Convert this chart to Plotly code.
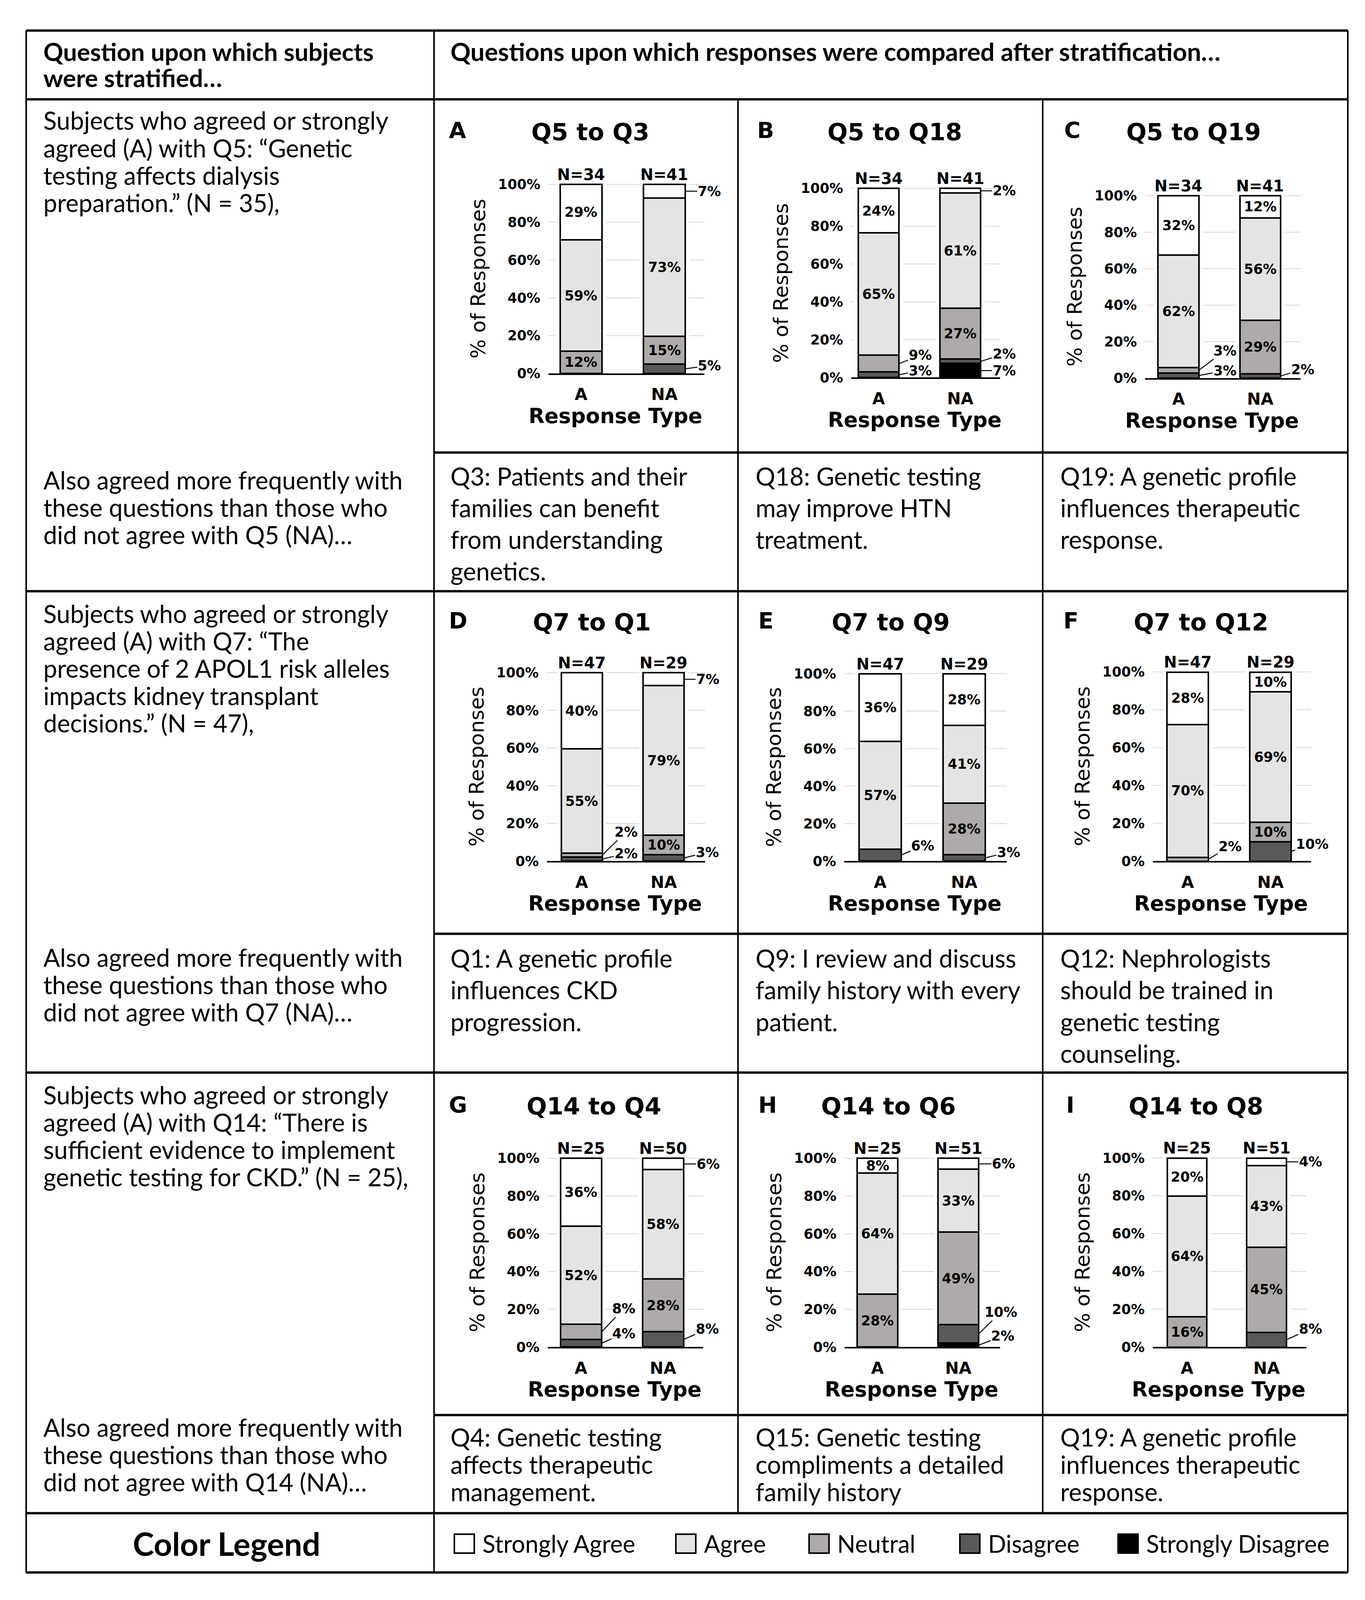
import plotly.graph_objects as go

# The reference is 3494 x 4762; the browser viewport that photographs the page is
# 3494 x 4096, so the whole table is laid out in reference pixels and compressed
# vertically to fit the visible page.
W = 3494
REF_H = 4762
VIEW_H = 4096
S = VIEW_H / REF_H

# ---------------- data ----------------
categories = ["A", "NA"]
levels = ["Strongly Agree", "Agree", "Neutral", "Disagree", "Strongly Disagree"]
level_keys = ["SA", "AG", "NE", "DI", "SD"]
level_colors = ["#ffffff", "#e4e4e4", "#aeaaaa", "#595959", "#000000"]

panel_letters = ["A", "B", "C", "D", "E", "F", "G", "H", "I"]
panel_titles = ["Q5 to Q3", "Q5 to Q18", "Q5 to Q19",
                "Q7 to Q1", "Q7 to Q9", "Q7 to Q12",
                "Q14 to Q4", "Q14 to Q6", "Q14 to Q8"]
n_group_A = [34, 34, 34, 47, 47, 47, 25, 25, 25]
n_group_NA = [41, 41, 41, 29, 29, 29, 50, 51, 51]

# % of responses, subjects who agreed (A)
strongly_agree_A = [29.4, 23.5, 32.4, 40.4, 36.2, 27.7, 36, 8, 20]
agree_A = [58.8, 64.7, 61.8, 55.3, 57.4, 70.2, 52, 64, 64]
neutral_A = [11.8, 8.8, 2.9, 2.1, 0, 2.1, 8, 28, 16]
disagree_A = [0, 2.9, 2.9, 2.1, 6.4, 0, 4, 0, 0]
strongly_disagree_A = [0, 0, 0, 0, 0, 0, 0, 0, 0]

# % of responses, subjects who did not agree (NA)
strongly_agree_NA = [7.3, 2.4, 12.2, 6.9, 27.6, 10.3, 6, 5.9, 3.9]
agree_NA = [73.2, 61.0, 56.1, 79.3, 41.4, 69.0, 58, 33.3, 43.1]
neutral_NA = [14.6, 26.8, 29.3, 10.3, 27.6, 10.3, 28, 49.0, 45.1]
disagree_NA = [4.9, 2.4, 2.4, 3.4, 3.4, 10.3, 8, 9.8, 7.8]
strongly_disagree_NA = [0, 7.3, 0, 0, 0, 0, 0, 2.0, 0]

y_tick_values = [0, 20, 40, 60, 80, 100]
y_tick_labels = ["0%", "20%", "40%", "60%", "80%", "100%"]

header_left = ["Question upon which subjects", "were stratified…"]
header_right = "Questions upon which responses were compared after stratification…"

strat_text = [
    ["Subjects who agreed or strongly", "agreed (A) with Q5: \u201cGenetic",
     "testing affects dialysis", "preparation.\u201d (N = 35),"],
    ["Subjects who agreed or strongly", "agreed (A) with Q7: \u201cThe",
     "presence of 2 APOL1 risk alleles", "impacts kidney transplant",
     "decisions.\u201d (N = 47),"],
    ["Subjects who agreed or strongly", "agreed (A) with Q14: \u201cThere is",
     "sufficient evidence to implement", "genetic testing for CKD.\u201d (N = 25),"],
]
also_text = [
    ["Also agreed more frequently with", "these questions than those who",
     "did not agree with Q5 (NA)…"],
    ["Also agreed more frequently with", "these questions than those who",
     "did not agree with Q7 (NA)…"],
    ["Also agreed more frequently with", "these questions than those who",
     "did not agree with Q14 (NA)…"],
]
question_text = [
    ["Q3: Patients and their", "families can benefit", "from understanding", "genetics."],
    ["Q18: Genetic testing", "may improve HTN", "treatment."],
    ["Q19: A genetic profile", "influences therapeutic", "response."],
    ["Q1: A genetic profile", "influences CKD", "progression."],
    ["Q9: I review and discuss", "family history with every", "patient."],
    ["Q12: Nephrologists", "should be trained in", "genetic testing", "counseling."],
    ["Q4: Genetic testing", "affects therapeutic", "management."],
    ["Q15: Genetic testing", "compliments a detailed", "family history"],
    ["Q19: A genetic profile", "influences therapeutic", "response."],
]

# ---------------- layout geometry (reference pixels) ----------------
def fx(px):
    return px / W

def fy(py):
    return 1 - py / REF_H

# plot area per panel: x0, x1, y of 100%, y of 0%
plot_box = [
    (1404, 1803, 541, 1108), (2179, 2560, 553, 1120), (2931, 3329, 575, 1122),
    (1400, 1805, 2005, 2570), (2161, 2577, 2008, 2570), (2951, 3356, 2003, 2570),
    (1402, 1800, 3461, 4027), (2162, 2560, 3461, 4027), (2951, 3344, 3460, 4027),
]
x_ranges = [(-0.39, 1.48), (-0.335, 1.488), (-0.41, 1.493),
            (-0.424, 1.505), (-0.428, 1.507), (-0.42, 1.49),
            (-0.405, 1.49), (-0.406, 1.517), (-0.43, 1.5)]
letter_x = [1147, 1936, 2722, 1147, 1939, 2720, 1147, 1939, 2727]
title_x = [1511, 2290, 3055, 1515, 2280, 3074, 1520, 2274, 3061]
title_y = [384, 1853, 3305]
BAR_W = 0.5
GRID_GAP = 0.05
Y_TOP = 102

# outside labels: (panel, bar, level) -> (ax, ay) offset of label from bar edge (ref px)
outside = {
    (0, 1, "SA"): (62, 0), (0, 1, "DI"): (62, -10),
    (1, 0, "NE"): (54, -25), (1, 0, "DI"): (54, -12),
    (1, 1, "SA"): (60, 0), (1, 1, "DI"): (60, -22), (1, 1, "SD"): (60, 0),
    (2, 0, "NE"): (66, -58), (2, 0, "DI"): (66, -14), (2, 1, "DI"): (56, -19),
    (3, 0, "NE"): (61, -69), (3, 0, "DI"): (61, -17),
    (3, 1, "SA"): (60, 0), (3, 1, "DI"): (59, -17),
    (4, 0, "DI"): (55, -28), (4, 1, "DI"): (60, -17),
    (5, 0, "NE"): (55, -37), (5, 1, "DI"): (54, -21),
    (6, 0, "NE"): (57, -69), (6, 0, "DI"): (57, -29),
    (6, 1, "SA"): (63, 0), (6, 1, "DI"): (61, -31),
    (7, 1, "SA"): (64, 0), (7, 1, "DI"): (57, -65), (7, 1, "SD"): (62, -27),
    (8, 1, "SA"): (61, 0), (8, 1, "DI"): (61, -32),
}

CH_FONT = "DejaVu Sans"
TX_FONT = "Lato"

series_A = [strongly_agree_A, agree_A, neutral_A, disagree_A, strongly_disagree_A]
series_NA = [strongly_agree_NA, agree_NA, neutral_NA, disagree_NA, strongly_disagree_NA]

fig = go.Figure()
annotations = []
shapes = []
layout_axes = {}


def paper_text(x, y, text, size, family, bold=False, xanchor="center",
               yanchor="middle", angle=0):
    f = dict(family=family, size=size, color="black")
    if bold:
        f["weight"] = "bold"
    annotations.append(dict(
        x=fx(x), y=fy(y), xref="paper", yref="paper", text=text,
        showarrow=False, xanchor=xanchor, yanchor=yanchor, textangle=angle,
        font=f,
    ))


for i in range(9):
    sfx = "" if i == 0 else str(i + 1)
    x0, x1, y100, y0 = plot_box[i]
    ytop = y0 - (y0 - y100) * Y_TOP / 100.0
    lo, hi = x_ranges[i]
    layout_axes["xaxis" + sfx] = dict(
        domain=[fx(x0), fx(x1)], anchor="y" + sfx, type="category",
        categoryorder="array", categoryarray=categories,
        range=[lo, hi], showline=True, linecolor="black", linewidth=4,
        showgrid=False, zeroline=False, ticks="", fixedrange=True,
        tickfont=dict(family=CH_FONT, size=42, color="black", weight="bold"),
        ticklabelstandoff=14,
    )
    layout_axes["yaxis" + sfx] = dict(
        domain=[fy(y0), fy(ytop)], anchor="x" + sfx, range=[0, Y_TOP],
        tickvals=y_tick_values, ticktext=y_tick_labels, showline=False,
        showgrid=False, zeroline=False,
        ticks="", fixedrange=True, ticklabelstandoff=20,
        tickfont=dict(family=CH_FONT, size=35, color="black", weight="bold"),
    )
    # gridlines, interrupted around the bars
    edge = BAR_W / 2 + GRID_GAP
    spans = [(lo, 0 - edge), (0 + edge, 1 - edge), (1 + edge, hi)]
    for gv in y_tick_values[1:]:
        for a, b in spans:
            shapes.append(dict(type="line", xref="x" + sfx, yref="y" + sfx,
                               x0=a, x1=b, y0=gv, y1=gv, layer="below",
                               line=dict(color="#d6d6d6", width=2)))
    # stacked bars: bottom to top SD, DI, NE, AG, SA
    for k in [4, 3, 2, 1, 0]:
        vals = [series_A[k][i], series_NA[k][i]]
        fig.add_trace(go.Bar(
            x=categories, y=[v if v > 0 else None for v in vals],
            xaxis="x" + sfx, yaxis="y" + sfx, width=BAR_W, name=levels[k],
            marker=dict(color=level_colors[k], line=dict(color="black", width=4)),
            showlegend=False, hoverinfo="skip",
        ))
    # segment labels
    for j, ser in enumerate([series_A, series_NA]):
        cum = 0.0
        for k in [4, 3, 2, 1, 0]:
            v = ser[k][i]
            if v <= 0:
                continue
            mid = cum + v / 2.0
            cum += v
            txt = f"{v:.0f}%"
            key = (i, j, level_keys[k])
            lf = dict(family=CH_FONT, size=35, color="black", weight="bold")
            if key in outside:
                ax, ay = outside[key]
                annotations.append(dict(
                    x=j + BAR_W / 2, y=mid, xref="x" + sfx, yref="y" + sfx,
                    text=txt, showarrow=True, arrowhead=0, arrowwidth=2.5,
                    arrowcolor="black", ax=ax, ay=ay * S, standoff=0,
                    xanchor="center", yanchor="middle", font=lf,
                ))
            else:
                annotations.append(dict(
                    x=j, y=mid, xref="x" + sfx, yref="y" + sfx, text=txt,
                    showarrow=False, xanchor="center", yanchor="middle", font=lf,
                ))
        # N labels
        n = [n_group_A, n_group_NA][j][i]
        annotations.append(dict(
            x=j, y=100, xref="x" + sfx, yref="y" + sfx, text=f"N={n}",
            showarrow=False, xanchor="center", yanchor="bottom", yshift=0,
            font=dict(family=CH_FONT, size=40, color="black", weight="bold"),
        ))
    # axis titles
    paper_text(x0 - 180, (y0 + y100) / 2, "% of Responses", 52, CH_FONT, angle=-90)
    paper_text((x0 + x1) / 2 - 28, y0 + 127, "Response Type", 53, CH_FONT, bold=True)
    # panel letter and title
    row = i // 3
    paper_text(letter_x[i], title_y[row] - 4, panel_letters[i], 57, CH_FONT,
               bold=True, xanchor="left")
    paper_text(title_x[i], title_y[row], panel_titles[i], 61, CH_FONT, bold=True)

# ---------------- table grid ----------------
L, C1, C2, C3, R = 67, 1111, 1889, 2669, 3450
T, HB = 80, 286
ROW_TOP = [286, 1761, 3204]
TXT_DIV = [1345, 2788, 4231]
LEG_T, B = 4525, 4703


def hline(y, xa, xb, w=6):
    shapes.append(dict(type="line", xref="paper", yref="paper",
                       x0=fx(xa), x1=fx(xb), y0=fy(y), y1=fy(y),
                       line=dict(color="black", width=w)))


def vline(x, ya, yb, w=4):
    shapes.append(dict(type="line", xref="paper", yref="paper",
                       x0=fx(x), x1=fx(x), y0=fy(ya), y1=fy(yb),
                       line=dict(color="black", width=w)))


for y in [T, HB, ROW_TOP[1], ROW_TOP[2], LEG_T, B]:
    hline(y, L, R)
for y in TXT_DIV:
    hline(y, C1, R)
vline(L, T, B)
vline(R, T, B)
vline(C1, T, B)
vline(C2, HB, LEG_T)
vline(C3, HB, LEG_T)


def text_lines(lines, x, y_first, step, size=63, bold=False):
    for n, s in enumerate(lines):
        paper_text(x, y_first + n * step, s, size, TX_FONT, bold=bold,
                   xanchor="left")


text_lines(header_left, 109, 142, 79, size=63, bold=True)
text_lines([header_right], 1151, 142, 79, size=64, bold=True)

strat_y = [349, 1828, 3271]
also_y = [1427, 2858, 4267]
q_y = [1415, 2861, 4297]
q_step = [95, 95, 82]
col_x = [1151, 1932, 2712]
for r in range(3):
    text_lines(strat_text[r], 109, strat_y[r], 82)
    text_lines(also_text[r], 109, also_y[r], 82)
    for c in range(3):
        text_lines(question_text[r * 3 + c], col_x[c], q_y[r], q_step[r])

# ---------------- colour legend ----------------
paper_text(580, 4616, "Color Legend", 82, TX_FONT, bold=True)
legend_box_x = [1163, 1730, 2071, 2457, 2862]
for k in range(5):
    bx = legend_box_x[k]
    shapes.append(dict(type="rect", xref="paper", yref="paper",
                       x0=fx(bx), x1=fx(bx + 51), y0=fy(4645), y1=fy(4588),
                       fillcolor=level_colors[k], line=dict(color="black", width=4)))
    paper_text(bx + 70, 4616, levels[k], 61, TX_FONT, xanchor="left")

fig.update_layout(
    width=W, height=VIEW_H, margin=dict(l=0, r=0, t=0, b=0, pad=0),
    paper_bgcolor="white", plot_bgcolor="white", barmode="stack",
    bargap=0, showlegend=False, font=dict(family=CH_FONT, color="black"),
    annotations=annotations, shapes=shapes, **layout_axes,
)

fig.write_html("out.html", config={"displayModeBar": False},
               post_script="document.body.style.margin='0';document.body.style.overflow='hidden';")
